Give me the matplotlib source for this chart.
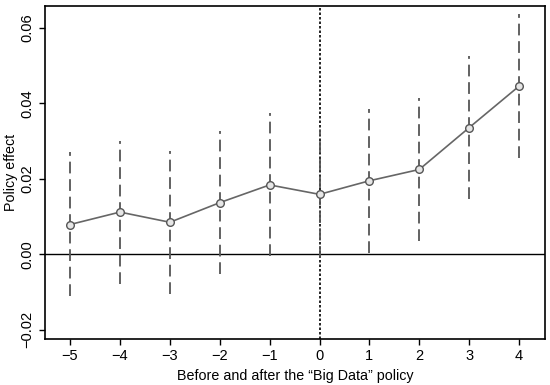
import matplotlib
matplotlib.use("Agg")
import matplotlib.pyplot as plt

# Data
periods = [-5, -4, -3, -2, -1, 0, 1, 2, 3, 4]
effect = [0.0079, 0.0112, 0.0085, 0.0137, 0.0184, 0.0159, 0.0195, 0.0225, 0.0336, 0.0446]
ci_low = [-0.0111, -0.0080, -0.0106, -0.0053, -0.0005, -0.0010, 0.0004, 0.0035, 0.0146, 0.0256]
ci_high = [0.0270, 0.0300, 0.0274, 0.0328, 0.0376, 0.0330, 0.0386, 0.0415, 0.0525, 0.0636]
xticks = [-5, -4, -3, -2, -1, 0, 1, 2, 3, 4]
yticks = [-0.02, 0.0, 0.02, 0.04, 0.06]

plt.rcParams['font.family'] = ['Liberation Sans', 'DejaVu Sans']

fig = plt.figure(figsize=(5.5, 3.85), dpi=100)
ax = fig.add_axes([0.082, 0.12, 0.909, 0.864])

ax.axhline(0, color='black', linewidth=1.0, zorder=1)
ax.axvline(0, color='black', linewidth=1.2, linestyle=(0, (1.5, 1.2)), zorder=1)

# confidence intervals as dashed vertical lines
ax.vlines(periods, ci_low, ci_high, colors='#555555', linewidth=1.3,
          linestyles=(0, (6.5, 3.2)), zorder=2)
ax.plot(periods, effect, color='#666666', linewidth=1.2, marker='o',
        markersize=5.5, markerfacecolor='#e6e6e6', markeredgecolor='#555555',
        markeredgewidth=1.0, zorder=3)

ax.set_xlim(-5.5, 4.52)
ax.set_ylim(-0.0224, 0.0658)
ax.set_xticks(xticks)
ax.set_xticklabels([str(t).replace('-', '\u2212') for t in xticks])
ax.set_yticks(yticks)
ax.set_yticklabels(['%.2f' % t if t >= 0 else '\u2212%.2f' % -t for t in yticks],
                   rotation=90, va='center')
ax.tick_params(direction='out', length=4, width=1.0, labelsize=10.5, colors='black')
for s in ax.spines.values():
    s.set_linewidth(1.2)

ax.set_xlabel('Before and after the \u201cBig Data\u201d policy', fontsize=10.3, labelpad=4)
ax.set_ylabel('Policy effect', fontsize=10.3, labelpad=2)

fig.savefig('out.png', dpi=100)
